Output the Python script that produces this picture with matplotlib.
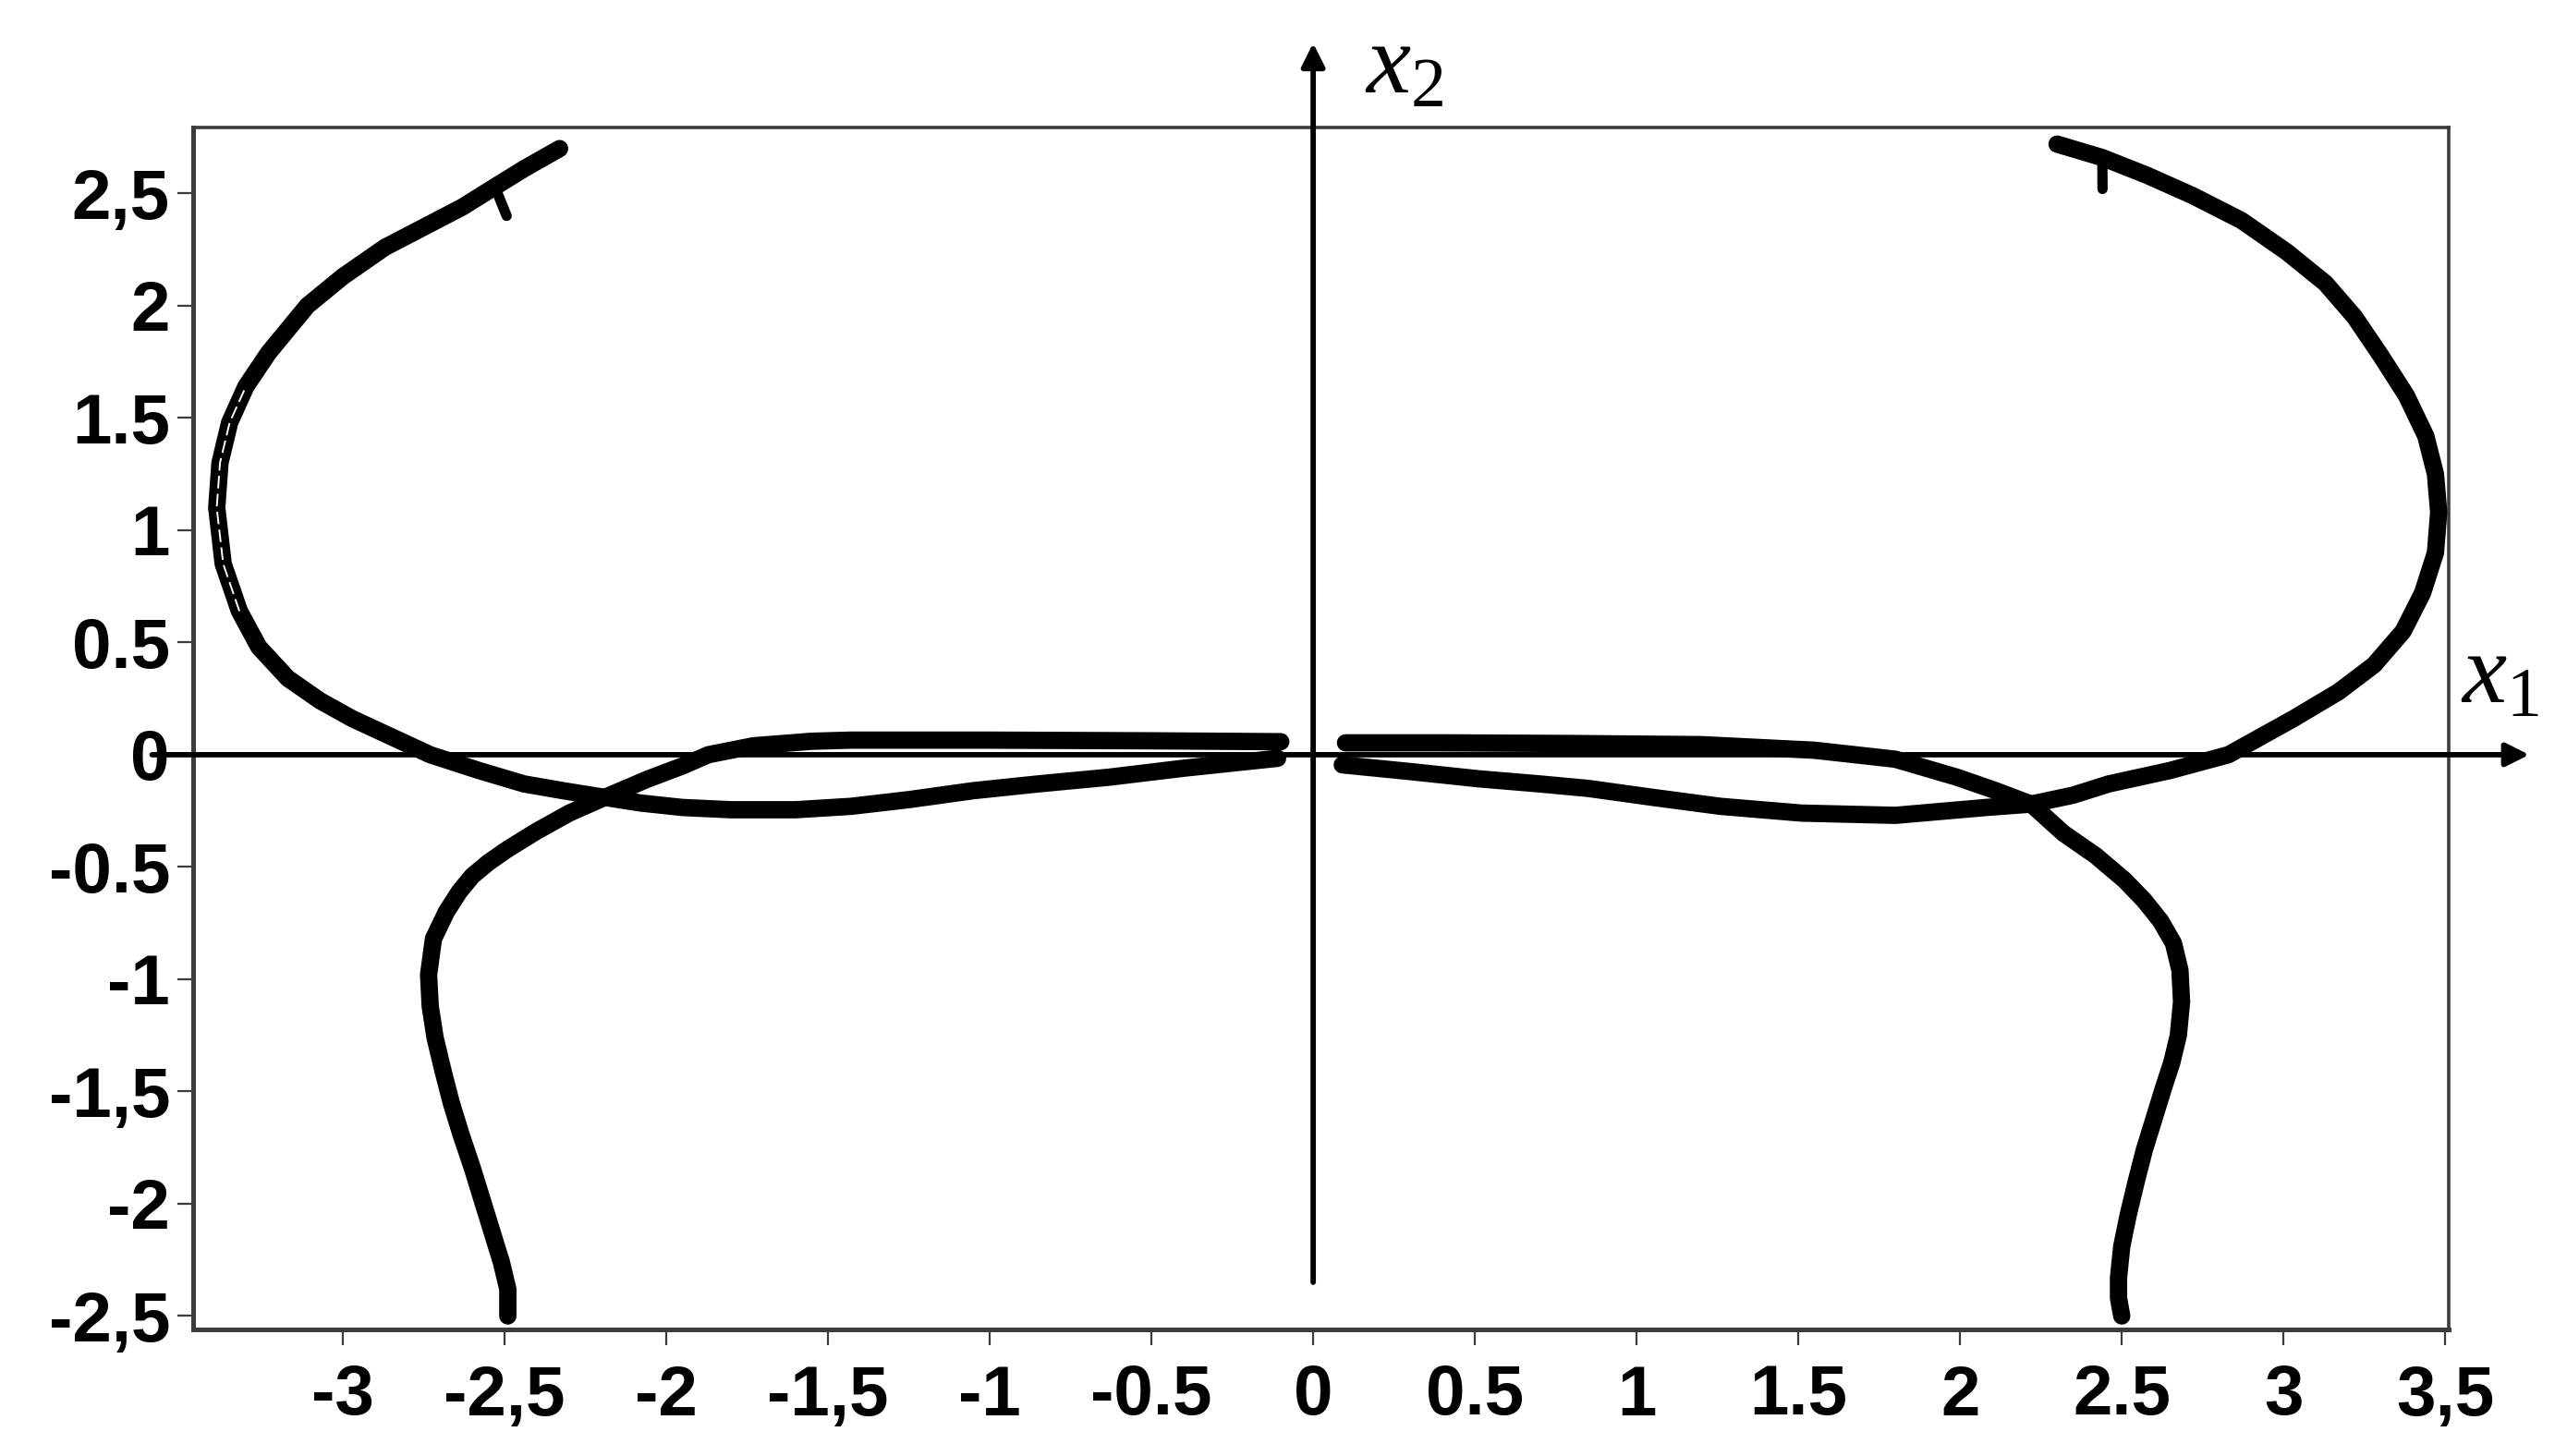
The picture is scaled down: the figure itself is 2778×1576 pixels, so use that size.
import numpy as np
import matplotlib
matplotlib.use("Agg")
import matplotlib.pyplot as plt

# ---------------- data ----------------
left_in_x = [-2.49, -2.49, -2.51, -2.54, -2.57, -2.60, -2.635, -2.665, -2.69, -2.715, -2.73,
             -2.735, -2.72, -2.68, -2.64, -2.60, -2.55, -2.49, -2.40, -2.30, -2.19, -2.06,
             -1.95, -1.87, -1.73, -1.55, -1.43, -1.00, -0.50, -0.10]
left_in_y = [-2.50, -2.38, -2.26, -2.12, -1.98, -1.84, -1.69, -1.55, -1.41, -1.26, -1.12,
             -0.98, -0.82, -0.70, -0.61, -0.54, -0.48, -0.42, -0.34, -0.26, -0.19, -0.11,
             -0.05, 0.00, 0.04, 0.06, 0.065, 0.065, 0.062, 0.058]

left_out_x = [-0.11, -0.40, -0.63, -0.85, -1.05, -1.25, -1.43, -1.60, -1.80, -1.95, -2.08,
              -2.19, -2.32, -2.44, -2.58, -2.73, -2.85, -2.97, -3.07, -3.17, -3.26, -3.32,
              -3.37, -3.39, -3.38, -3.35, -3.30, -3.23, -3.11, -3.00, -2.87, -2.75, -2.63,
              -2.53, -2.44, -2.33]
left_out_y = [-0.016, -0.06, -0.10, -0.13, -0.16, -0.20, -0.23, -0.245, -0.245, -0.235, -0.215,
              -0.19, -0.16, -0.13, -0.07, 0.00, 0.08, 0.16, 0.24, 0.34, 0.48, 0.64,
              0.85, 1.10, 1.30, 1.48, 1.64, 1.79, 2.00, 2.13, 2.26, 2.35, 2.44,
              2.53, 2.61, 2.70]

right_in_x = [2.50, 2.49, 2.49, 2.50, 2.52, 2.545, 2.57, 2.60, 2.63, 2.655, 2.675, 2.685,
              2.68, 2.66, 2.62, 2.57, 2.51, 2.42, 2.32, 2.22, 2.11, 1.99, 1.80, 1.55, 1.20,
              0.80, 0.40, 0.10]
right_in_y = [-2.50, -2.42, -2.33, -2.19, -2.05, -1.90, -1.76, -1.62, -1.48, -1.37, -1.25, -1.10,
              -0.96, -0.84, -0.74, -0.65, -0.56, -0.45, -0.35, -0.22, -0.16, -0.10, -0.02, 0.02,
              0.045, 0.05, 0.053, 0.053]

right_out_x = [0.09, 0.30, 0.51, 0.70, 0.85, 1.05, 1.26, 1.51, 1.80, 2.08, 2.22, 2.35,
               2.46, 2.65, 2.83, 3.03, 3.17, 3.28, 3.37, 3.43, 3.47, 3.48, 3.47, 3.44,
               3.38, 3.30, 3.22, 3.13, 3.01, 2.87, 2.72, 2.58, 2.44, 2.30]
right_out_y = [-0.045, -0.075, -0.107, -0.13, -0.15, -0.19, -0.23, -0.26, -0.27, -0.235, -0.22, -0.18,
               -0.13, -0.07, 0.00, 0.16, 0.28, 0.40, 0.55, 0.72, 0.90, 1.08, 1.25, 1.42,
               1.60, 1.78, 1.95, 2.10, 2.24, 2.38, 2.49, 2.58, 2.66, 2.72]

x_ticks = [-3, -2.5, -2, -1.5, -1, -0.5, 0, 0.5, 1, 1.5, 2, 2.5, 3, 3.5]
x_tick_labels = ["-3", "-2,5", "-2", "-1,5", "-1", "-0.5", "0", "0.5", "1", "1.5", "2", "2.5", "3", "3,5"]
y_ticks = [2.5, 2, 1.5, 1, 0.5, 0, -0.5, -1, -1.5, -2, -2.5]
y_tick_labels = ["2,5", "2", "1.5", "1", "0.5", "0", "-0.5", "-1", "-1,5", "-2", "-2,5"]

x_axis_span = [-3.59, 3.76]
y_axis_span = [-2.35, 3.17]

# ---------------- figure ----------------
W, H, DPI = 2778, 1576, 100
plt.rcParams["mathtext.fontset"] = "custom"
plt.rcParams["mathtext.it"] = "Liberation Serif:italic"
plt.rcParams["mathtext.rm"] = "Liberation Serif"

fig = plt.figure(figsize=(W / DPI, H / DPI), dpi=DPI)
fig.patch.set_facecolor("white")
L, R, T, B = 209, 2650, 138, 1439
ax = fig.add_axes([L / W, 1 - B / H, (R - L) / W, (B - T) / H])
ax.set_xlim(-3.463, 3.511)
ax.set_ylim(-2.560, 2.794)

curve_kw = dict(color="black", lw=13.5, solid_capstyle="round", solid_joinstyle="round", zorder=4)
for xs, ys in [(left_in_x, left_in_y), (left_out_x, left_out_y),
               (right_in_x, right_in_y), (right_out_x, right_out_y)]:
    ax.plot(xs, ys, **curve_kw)

# doubled-stroke look on the left loop
lox = np.array(left_out_x)
loy = np.array(left_out_y)
m2 = (loy > 0.55) & (loy < 1.70)
ax.plot(lox[m2], loy[m2], color="white", lw=1.4, dashes=(7, 3), zorder=5)

# small barbs near the ends of the outgoing trajectories
fig.canvas.draw()
for xs, ys, k, ang in [(left_out_x, left_out_y, -3, -100), (right_out_x, right_out_y, -2, 112)]:
    p0 = ax.transData.transform((xs[k - 1], ys[k - 1]))
    p1 = ax.transData.transform((xs[k], ys[k]))
    d = (p1 - p0) / np.hypot(*(p1 - p0))
    a = np.deg2rad(ang)
    rot = np.array([[np.cos(a), -np.sin(a)], [np.sin(a), np.cos(a)]])
    tip = p1 + rot @ d * 34
    q = ax.transData.inverted().transform(np.vstack([p1, tip]))
    ax.plot(q[:, 0], q[:, 1], color="black", lw=8, solid_capstyle="round", zorder=4)

# coordinate axes with arrows
arrow_kw = dict(arrowstyle="-|>", lw=4.2, color="black", mutation_scale=38, shrinkA=0, shrinkB=0)
ax.annotate("", xy=(x_axis_span[1], 0), xytext=(x_axis_span[0], 0),
            arrowprops=arrow_kw, annotation_clip=False, zorder=6)
ax.annotate("", xy=(0, y_axis_span[1]), xytext=(0, y_axis_span[0]),
            arrowprops=arrow_kw, annotation_clip=False, zorder=6)

# frame and ticks
for s in ax.spines.values():
    s.set_color("#3c3c3c")
    s.set_linewidth(2.6)
ax.spines["left"].set_linewidth(3.6)
ax.spines["bottom"].set_linewidth(3.6)

ax.set_xticks(x_ticks)
ax.set_xticklabels(x_tick_labels)
ax.set_yticks(y_ticks)
ax.set_yticklabels(y_tick_labels)
ax.tick_params(axis="both", direction="out", length=12, width=1.6, color="#3c3c3c")
ax.tick_params(axis="x", pad=15)
ax.tick_params(axis="y", pad=6)
for lab in ax.get_xticklabels() + ax.get_yticklabels():
    lab.set_fontfamily("Liberation Sans")
    lab.set_fontweight("bold")
    lab.set_fontsize(55)

# axis names
fig.text(1477 / W, 1 - 100 / H, r"$x_2$", fontsize=78, ha="left", va="baseline")
fig.text(2663 / W, 1 - 760 / H, r"$x_1$", fontsize=78, ha="left", va="baseline")

fig.savefig("out.png", dpi=DPI, facecolor="white")
